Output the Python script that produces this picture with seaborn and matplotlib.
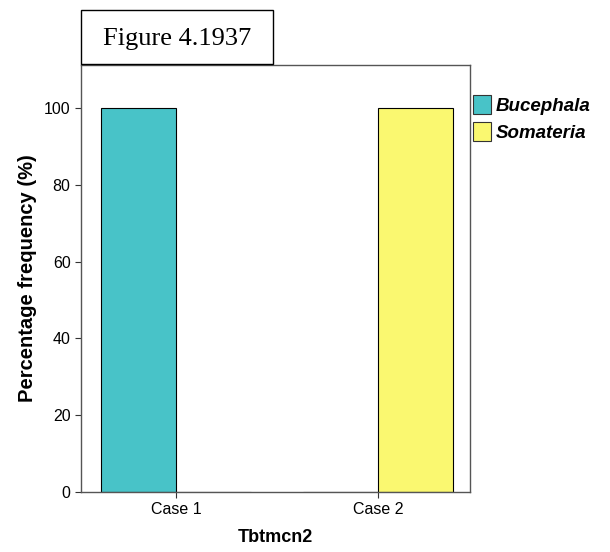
import matplotlib
matplotlib.use("Agg")
import matplotlib.pyplot as plt
import seaborn as sns
import pandas as pd
from matplotlib.patches import Rectangle, Patch

categories = ["Case 1", "Case 2"]
species = ["Bucephala", "Somateria"]
bucephala = [100, 0]
somateria = [0, 100]
colors = ["#48C3C8", "#FAF870"]

df = pd.DataFrame({
    "cat": categories * 2,
    "species": [species[0]] * 2 + [species[1]] * 2,
    "value": bucephala + somateria,
})

sns.set_style("white")
plt.rcParams["font.family"] = ["Liberation Sans", "DejaVu Sans"]
plt.rcParams["text.color"] = "black"
plt.rcParams["axes.labelcolor"] = "black"
plt.rcParams["xtick.color"] = "black"
plt.rcParams["ytick.color"] = "black"

fig = plt.figure(figsize=(6.1, 5.52), dpi=100)
ax = fig.add_axes([0.1328, 0.1087, 0.6377, 0.7735])
sns.barplot(data=df, x="cat", y="value", hue="species", palette=colors,
            width=0.74, saturation=1, edgecolor="black", linewidth=0.8,
            ax=ax, legend=False)
ax.set_xlim(-0.47, 1.455)
ax.set_ylim(0, 111.2)
ax.set_yticks([0, 20, 40, 60, 80, 100])
for s in ax.spines.values():
    s.set_color("#555555")
    s.set_linewidth(1.0)
    s.set_visible(True)
ax.tick_params(axis="both", which="both", direction="out", length=4, width=0.8,
               color="#333333", labelcolor="black", labelsize=11.5, left=True, bottom=True)
ax.set_xlabel("Tbtmcn2", fontsize=13, fontweight="bold", labelpad=8)
ax.set_ylabel("Percentage frequency (%)", fontsize=14.5, fontweight="bold", labelpad=5)

handles = [Patch(facecolor=c, edgecolor="#333333", linewidth=0.8) for c in colors]
fig.legend(handles, species, loc="upper left", bbox_to_anchor=(0.773, 0.832),
           frameon=False, prop={"weight": "bold", "style": "italic", "size": 13.5},
           handlelength=0.95, handleheight=1.2, handletextpad=0.25, labelspacing=0.4,
           borderaxespad=0, borderpad=0.1)

fig.add_artist(Rectangle((0.1328, 0.884), 0.3147, 0.098, transform=fig.transFigure,
                         facecolor="white", edgecolor="black", linewidth=1.0, zorder=5))
fig.text(0.29, 0.929, "Figure 4.1937", ha="center", va="center", fontsize=19,
         family=["Liberation Serif", "DejaVu Serif"], zorder=6)

fig.savefig("out.png", dpi=100)
